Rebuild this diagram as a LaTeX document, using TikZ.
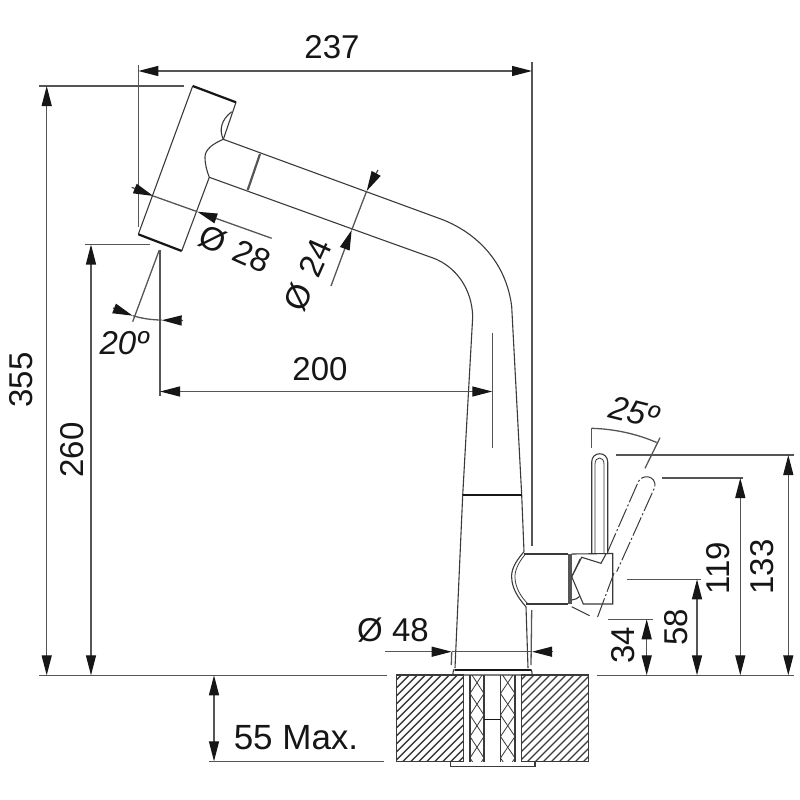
\documentclass[tikz,border=0pt]{standalone}
\usepackage{fontspec}
\setmainfont{Liberation Sans}
\usetikzlibrary{arrows.meta}
\definecolor{ln}{HTML}{3A3A3A}
\definecolor{dm}{HTML}{555555}
\definecolor{tp}{HTML}{161616}
\tikzset{
  body/.style={draw=ln,line width=1.1pt},
  heavy/.style={draw=tp,line width=2.2pt},
  dimline/.style={draw=dm,line width=1.3pt},
  dimboth/.style={dimline,{Triangle[length=20pt,width=10pt,color=tp]}-{Triangle[length=20pt,width=10pt,color=tp]}},
  dimend/.style={dimline,-{Triangle[length=20pt,width=10pt,color=tp]}},
  phantomline/.style={draw=ln,line width=1pt,dash pattern=on 20pt off 2.5pt on 2pt off 2.5pt},
  lab/.style={font=\fontsize{33}{33}\selectfont,text=tp,inner sep=0pt},
  hatchline/.style={draw=ln,line width=1.3pt}
}
\begin{document}
\begin{tikzpicture}[x=1pt,y=-1pt]
\useasboundingbox (0,0) rectangle (800,800);

% pull-out head
\draw[body] (192.7,86) -- (138.3,234.3);
\draw[body] (236,102.3) -- (223.3,139.3);
\draw[body] (209.3,177.3) -- (181.7,251);
\draw[heavy] (192.7,86) -- (236,102.3);
\draw[heavy] (138.3,234.3) -- (181.7,251);
\draw[body] (231.7,111.7) .. controls (221,120) and (219,130) .. (223.3,139.3);
\draw[body] (223.3,139.3) .. controls (212,144) and (205,150) .. (205,157) .. controls (205,165) and (207,171) .. (209.3,177.3);

% spout
\draw[body] (223.3,139.3) -- (380,196.7) -- (443,219.8) .. controls (483,236) and (507,268) .. (511.7,306.7) -- (521.7,495.3) -- (524,551.7);
\draw[body] (209.3,177.3) -- (380,239) -- (433,258) .. controls (455,266) and (472,288) .. (472.7,316.7) -- (462.7,495.3) -- (455,668);
\draw[body] (526,606.7) -- (528,668);
\draw[draw=dm,line width=2.2pt] (260,154) -- (247.7,190);
\draw[heavy] (462.7,495.3) -- (521.7,495.3);

% mixer body
\draw[body] (524,554) -- (568.3,554);
\draw[body] (526,604) -- (568.3,604);
\draw[body] (524,551.7) .. controls (515,562) and (511,570) .. (511.7,578) .. controls (512,588) and (518,598) .. (526,606.7);
\draw[draw=ln,line width=.8pt] (525.5,554) .. controls (518,563) and (514.5,571) .. (515,578) .. controls (515.5,588) and (521,597) .. (528,604);
\fill[dm] (568.3,554) rectangle (571.7,604);
\draw[body] (571.7,554) -- (612.7,553.5) -- (612.7,604) -- (583.3,604) -- (571.7,576.7) -- (581.7,557.3) -- (601,563.3) -- (606,554);
\draw[body] (571.7,600) .. controls (575,600) and (578,598) .. (579.5,596.5);

% lever
\draw[body] (591.7,554) -- (591.7,462) .. controls (591.7,451) and (607.7,451) .. (607.7,462) -- (607.7,554);
\draw[draw=ln,line width=.8pt] (595,554) -- (595,464) .. controls (595,456) and (604,456) .. (604,464) -- (604,554);

% lever, tilted position
\draw[phantomline] (607.7,551.7) -- (638.3,481.7) .. controls (642,474) and (656,475) .. (655,486.7) -- (616.7,571.7);
\draw[phantomline] (614,573) -- (596.7,619.3);
\draw[phantomline] (571.7,606.7) -- (591.7,616.7);
\draw[phantomline] (571.7,577) -- (581,557);

% worktop
\foreach \xa/\xb in {396.7/463.3,521.3/588.3}{
  \begin{scope}
    \clip (\xa,675) rectangle (\xb,761.7);
    \foreach \k in {0,8,...,168}{
      \draw[hatchline] (\xa-90+\k,761.7) -- (\xa-90+\k+87,674.7);
    }
  \end{scope}
  \draw[body] (\xa,675) rectangle (\xb,761.7);
}
\foreach \xa/\xb in {470/484,500.5/515}{
  \begin{scope}
    \clip (\xa,675) rectangle (\xb,761.7);
    \foreach \k in {0,1,2}{
      \draw[draw=ln,line width=.8pt] (\xa,672+43*\k) -- (\xb,693.5+43*\k) -- (\xa,715+43*\k);
      \draw[draw=ln,line width=.8pt] (\xb,672+43*\k) -- (\xa,693.5+43*\k) -- (\xb,715+43*\k);
    }
  \end{scope}
}
\foreach \xa in {470,484,500.5,515}{
  \draw[draw=ln,line width=1.6pt] (\xa,675) -- (\xa,761.7);
}
\draw[draw=tp,line width=1.6pt] (484,719.3) -- (500.5,719.3);
\draw[body] (452.7,675) -- (453.5,670) -- (531.5,670) -- (532.3,675) -- cycle;
\draw[draw=tp,line width=2pt] (454.5,669.5) -- (530.5,669.5);
\draw[body] (450.7,761.7) -- (450.7,766.7) -- (535,766.7) -- (535,761.7);

% reference lines
\draw[dimline] (138.3,65) -- (138.3,226.7);
\draw[dimline] (532,62) -- (532,546);
\draw[dimline] (531.7,610) -- (531,665);
\draw[dimline] (451.7,652) -- (451.3,665);
\draw[dimline] (39,86) -- (184,86);
\draw[dimline] (85,244.5) -- (150,244.5);
\draw[dimline] (39,675.3) -- (387,675.3);
\draw[dimline] (597,675.3) -- (794,675.3);
\draw[dimline] (209,761.3) -- (384,761.3);
\draw[dimline] (492.3,333.3) -- (492.3,448.3);
\draw[dimline] (160,250) -- (160,396);
\draw[dimline] (615.7,455) -- (794,455);
\draw[dimline] (661.7,478) -- (742.7,478);
\draw[dimline] (627.3,579.3) -- (701,579.3);
\draw[dimline] (607.7,619.3) -- (652.7,619.3);

% dimensions
\draw[dimboth] (138.3,71) -- (532,71);
\draw[dimboth] (46.7,86) -- (46.7,675.3);
\draw[dimboth] (91,244.5) -- (91,675.3);
\draw[dimboth] (160,391.5) -- (492.3,391.5);
\draw[dimboth] (214,675.3) -- (214,761.3);
\draw[dimboth] (788.3,455) -- (788.3,675.3);
\draw[dimboth] (740.3,478) -- (740.3,675.3);
\draw[dimboth] (697,579.3) -- (697,675.3);
\draw[dimboth] (646.7,619.3) -- (646.7,675.3);
\draw[dimend] (385,651.7) -- (451.7,651.7);
\draw[dimend] (553,651.7) -- (532,651.7);
\draw[dimline] (451.7,651.7) -- (532,651.7);
\draw[dimend] (131.7,187.3) -- (153.3,196);
\draw[dimend] (271.7,238.3) -- (197.3,211.7);
\draw[dimline] (153.3,196) -- (197.3,211.7);
\draw[dimend] (378,170) -- (366.7,191);
\draw[dimend] (331,286) -- (351.7,230);
\draw[dimline] (366.7,191) -- (351.7,230);

% 20 degree angle
\draw[dimline] (159.3,250) -- (132.7,321.7);
\draw[dimline] (132.7,315.7) .. controls (142,318.5) and (152,320) .. (161.7,320);
\draw[dimend] (113,308) -- (132.7,315.7);
\draw[dimend] (183,320.5) -- (161.7,320.2);

% 25 degree angle
\draw[dimline] (591.7,428.3) -- (591.7,448.3);
\draw[dimline] (591.7,428.3) .. controls (615,429) and (637,434) .. (656.7,442.5);
\draw[dimline] (660,437.7) -- (645,468.3);

% labels
\node[lab] (l237) at (332,47) {237};
\node[lab,rotate=90] (l355) at (21,380) {355};
\node[lab,rotate=90] (l260) at (72,450) {260};
\node[lab] (l200) at (320,369) {200};
\node[lab,rotate=-24] (l28) at (235,249) {Ø\hspace{2pt} 28};
\node[lab,rotate=66] (l24) at (308,275) {Ø\hspace{2pt} 24};
\node[lab,font=\fontsize{33}{33}\selectfont\itshape] (l20) at (124,343) {20º};
\node[lab,font=\fontsize{33}{33}\selectfont\itshape,rotate=-14] (l25) at (634,412) {25º};
\node[lab,rotate=90] (l133) at (762,567) {133};
\node[lab,rotate=90] (l119) at (718,568) {119};
\node[lab,rotate=90] (l58) at (676,627) {58};
\node[lab,rotate=90] (l34) at (623,645) {34};
\node[lab] (l48) at (393,630) {Ø 48};
\node[lab,font=\fontsize{35}{35}\selectfont] (l55) at (296,738) {55 Max.};
\end{tikzpicture}
\end{document}
